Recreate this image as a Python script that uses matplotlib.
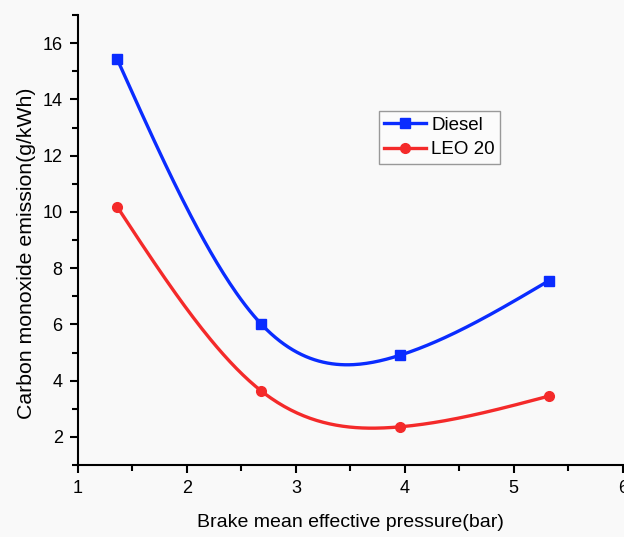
import numpy as np
import matplotlib
matplotlib.use("Agg")
import matplotlib.pyplot as plt
from matplotlib.ticker import MultipleLocator

plt.rcParams['font.family'] = ['Liberation Sans', 'DejaVu Sans']

# data
bmep = [1.36, 2.68, 3.96, 5.32]
co_diesel = [15.43, 6.02, 4.91, 7.55]
co_leo20 = [10.18, 3.64, 2.36, 3.45]


def natural_spline(x, y, n=200):
    # natural cubic spline, just for the smooth connecting line
    x = np.asarray(x, float)
    y = np.asarray(y, float)
    k = len(x)
    h = np.diff(x)
    A = np.zeros((k, k))
    r = np.zeros(k)
    A[0, 0] = A[-1, -1] = 1
    for i in range(1, k - 1):
        A[i, i - 1] = h[i - 1]
        A[i, i] = 2 * (h[i - 1] + h[i])
        A[i, i + 1] = h[i]
        r[i] = 6 * ((y[i + 1] - y[i]) / h[i] - (y[i] - y[i - 1]) / h[i - 1])
    M = np.linalg.solve(A, r)
    xs = np.linspace(x[0], x[-1], n)
    idx = np.clip(np.searchsorted(x, xs) - 1, 0, k - 2)
    x0, x1 = x[idx], x[idx + 1]
    hh = x1 - x0
    a = (x1 - xs) / hh
    b = (xs - x0) / hh
    ys = (a * y[idx] + b * y[idx + 1]
          + ((a ** 3 - a) * M[idx] + (b ** 3 - b) * M[idx + 1]) * hh ** 2 / 6)
    return xs, ys


blue = '#0a2cff'
red = '#f42a2a'

fig = plt.figure(figsize=(6.24, 5.37), dpi=100, facecolor='#f9f9f9')
ax = fig.add_axes([0.125, 0.134, 0.873, 0.838])
ax.set_facecolor('#f9f9f9')

xs, ys = natural_spline(bmep, co_diesel)
ax.plot(xs, ys, color=blue, lw=2.4)
ax.plot(bmep, co_diesel, 's', color=blue, ms=7)

xs, ys = natural_spline(bmep, co_leo20)
ax.plot(xs, ys, color=red, lw=2.4)
ax.plot(bmep, co_leo20, 'o', color=red, ms=7)

# legend proxies
ax.plot([], [], '-s', color=blue, lw=2.4, ms=7, label='Diesel')
ax.plot([], [], '-o', color=red, lw=2.4, ms=7, label='LEO 20')
leg = ax.legend(loc='upper left', bbox_to_anchor=(0.552, 0.787), borderaxespad=0,
                fancybox=False, edgecolor='#999999', fontsize=13.5,
                handlelength=2.2, handletextpad=0.3, labelspacing=0.4,
                borderpad=0.3, framealpha=1, facecolor='#fbfbfb')
leg.get_frame().set_linewidth(1.0)

ax.set_xlim(1, 6)
ax.set_ylim(1, 17)
ax.xaxis.set_major_locator(MultipleLocator(1))
ax.xaxis.set_minor_locator(MultipleLocator(0.5))
ax.yaxis.set_major_locator(MultipleLocator(2))
ax.yaxis.set_minor_locator(MultipleLocator(1))
ax.set_yticks(range(2, 17, 2))

for s in ['top', 'right']:
    ax.spines[s].set_visible(False)
for s in ['left', 'bottom']:
    ax.spines[s].set_linewidth(1.5)

ax.tick_params(which='major', direction='out', length=6, width=1.5, labelsize=13, pad=5)
ax.tick_params(which='minor', direction='out', length=4, width=1.5)

ax.set_xlabel('Brake mean effective pressure(bar)', fontsize=14, labelpad=12)
ax.set_ylabel('Carbon monoxide emission(g/kWh)', fontsize=15.3)
ax.yaxis.set_label_coords(-0.077, 0.47)

fig.savefig('out.png', dpi=100, facecolor=fig.get_facecolor())
